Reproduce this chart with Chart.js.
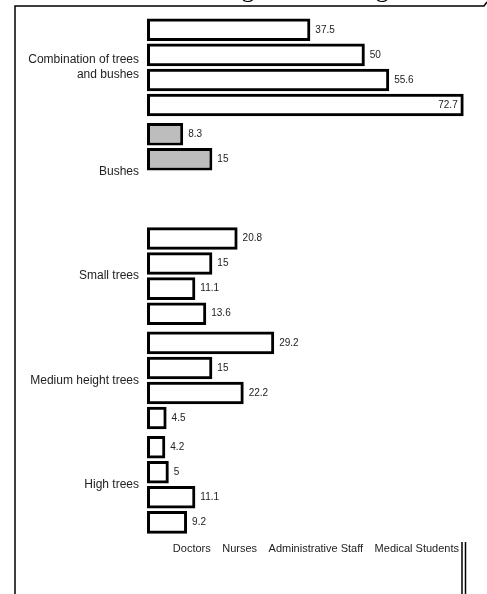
<!DOCTYPE html>
<html>
<head>
<meta charset="utf-8">
<script src="https://cdn.jsdelivr.net/npm/chart.js@4.4.1/dist/chart.umd.min.js"></script>
<style>
html, body { margin: 0; padding: 0; background: #fff; overflow: hidden; }
#caja { position: relative; width: 487px; height: 594px; overflow: hidden; }
#titulo { position: absolute; z-index: 2; left: 214px; top: -26px; font-family: "Liberation Serif"; font-size: 26px; line-height: 30px; white-space: nowrap; color: #000; }
#grafica { position: absolute; z-index: 1; left: 0; top: 0; }
</style>
</head>
<body>
<div id="caja">
  <canvas id="grafica" width="487" height="594"></canvas>
  <div id="titulo">Vegetation and green areas</div>
</div>
<script>
// categorias del eje y y grupos de la leyenda
const categorias = ['Combination of trees and bushes', 'Bushes', 'Small trees', 'Medium height trees', 'High trees'];
const grupos = ['Doctors', 'Nurses', 'Administrative Staff', 'Medical Students'];

// porcentajes por grupo (cada uno suma 100)
const doctors = [37.5, 8.3, 20.8, 29.2, 4.2];
const nurses = [50, 15, 15, 15, 5];
const adminStaff = [55.6, 0, 11.1, 22.2, 11.1];
const medStudents = [72.7, 0, 13.6, 4.5, 9.2];

const valores = [doctors, nurses, adminStaff, medStudents];

// lineas del marco de la pagina
const marco = {
    id: 'marco',
    beforeDraw(chart) {
        const ctx = chart.ctx;
        ctx.save();
        ctx.fillStyle = '#fff';
        ctx.fillRect(0, 0, chart.width, chart.height);
        ctx.strokeStyle = '#000';
        ctx.lineWidth = 1.5;
        ctx.beginPath();
        ctx.moveTo(15, 594);
        ctx.lineTo(15, 6);
        ctx.lineTo(484, 6);
        ctx.lineTo(487, 2);
        ctx.moveTo(462, 542);
        ctx.lineTo(462, 594);
        ctx.moveTo(465.5, 542);
        ctx.lineTo(465.5, 594);
        ctx.stroke();
        ctx.restore();
    }
};

// numeros al final de cada barra
const etiquetas = {
    id: 'etiquetas',
    afterDatasetsDraw(chart) {
        const ctx = chart.ctx;
        ctx.save();
        ctx.font = '10px "Liberation Sans"';
        ctx.fillStyle = '#222';
        ctx.textBaseline = 'middle';
        chart.data.datasets.forEach((ds, i) => {
            chart.getDatasetMeta(i).data.forEach((barra, j) => {
                const v = ds.data[j];
                if (!v) return;
                const txt = String(v);
                let x = barra.x + 5;
                ctx.textAlign = 'left';
                if (x + ctx.measureText(txt).width > chart.width - 2) {
                    x = barra.x - 6;
                    ctx.textAlign = 'right';
                }
                ctx.fillText(txt, x, barra.y);
            });
        });
        ctx.restore();
    }
};

const ctx = document.getElementById('grafica').getContext('2d');
new Chart(ctx, {
    type: 'bar',
    data: {
        labels: categorias,
        datasets: grupos.map((g, i) => ({
            label: g,
            data: valores[i],
            backgroundColor: c => c.dataIndex === 1 ? '#bdbdbd' : 'rgba(255,255,255,0)',
            borderColor: '#000',
            borderWidth: 3,
            borderSkipped: false,
            categoryPercentage: 0.96,
            barPercentage: 0.9
        }))
    },
    options: {
        indexAxis: 'y',
        responsive: false,
        animation: false,
        layout: { padding: { left: 15, top: 15, right: 22, bottom: 30 } },
        scales: {
            x: { display: false, min: 0, max: 73 },
            y: {
                grid: { display: false, drawTicks: false },
                border: { display: false },
                ticks: {
                    padding: 8,
                    color: '#222',
                    font: { family: 'Liberation Sans', size: 12 },
                    callback: function (v) {
                        const l = this.getLabelForValue(v);
                        if (l.length <= 22) return l;
                        const corte = l.lastIndexOf(' ', 21);
                        return [l.slice(0, corte), l.slice(corte + 1)];
                    }
                },
                afterFit: s => { s.width = 132; }
            }
        },
        plugins: {
            legend: {
                position: 'bottom',
                align: 'end',
                labels: {
                    boxWidth: 0,
                    padding: 6,
                    color: '#222',
                    font: { family: 'Liberation Sans', size: 11 },
                    generateLabels: chart => Chart.defaults.plugins.legend.labels.generateLabels(chart).map(it => {
                        it.lineWidth = 0;
                        it.fillStyle = 'rgba(0,0,0,0)';
                        it.strokeStyle = 'rgba(0,0,0,0)';
                        return it;
                    })
                }
            },
            tooltip: { enabled: false }
        }
    },
    plugins: [marco, etiquetas]
});
</script>
</body>
</html>
